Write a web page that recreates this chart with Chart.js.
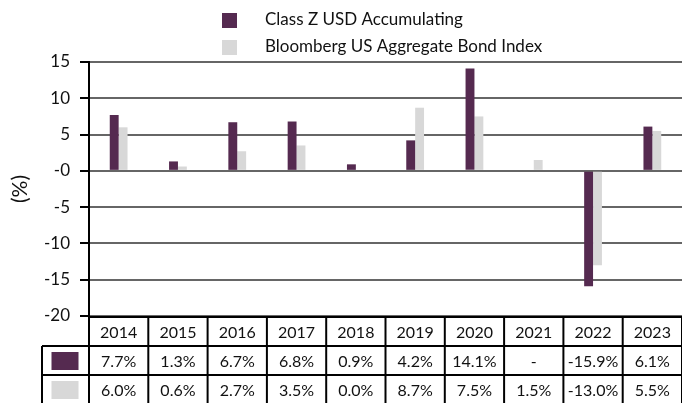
<!DOCTYPE html>
<html>
<head>
<meta charset="utf-8">
<script src="https://cdn.jsdelivr.net/npm/chart.js@4/dist/chart.umd.min.js"></script>
<style>
	html, body { margin: 0; padding: 0; background: #fff; }
	#wrap { width: 682px; height: 403px; position: relative; }
</style>
</head>
<body>
<div id="wrap"><canvas id="chart" width="682" height="403"></canvas></div>
<script>
const years = ['2014', '2015', '2016', '2017', '2018', '2019', '2020', '2021', '2022', '2023'];
const classZ = [7.7, 1.3, 6.7, 6.8, 0.9, 4.2, 14.1, null, -15.9, 6.1];
const bloomberg = [6.0, 0.6, 2.7, 3.5, 0.0, 8.7, 7.5, 1.5, -13.0, 5.5];
const seriesNames = ['Class Z USD Accumulating', 'Bloomberg US Aggregate Bond Index'];
const seriesColors = ['#552a50', '#d8d8d8'];

const FONT = 'Lato, "Open Sans", sans-serif';

// Leyenda vertical arriba
const legendPlugin = {
	id: 'stackedLegend',
	afterDraw(chart) {
		const ctx = chart.ctx;
		ctx.save();
		ctx.font = '17px ' + FONT;
		ctx.textBaseline = 'middle';
		ctx.textAlign = 'left';
		chart.data.datasets.forEach((ds, i) => {
			const cy = 20 + i * 27;
			ctx.fillStyle = ds.backgroundColor;
			ctx.fillRect(222, cy - 7, 15, 15);
			ctx.fillStyle = '#111';
			ctx.fillText(ds.label, 265, cy);
		});
		ctx.restore();
	}
};

// Tabla de datos bajo el gráfico
const tablePlugin = {
	id: 'dataTable',
	afterDraw(chart) {
		const ctx = chart.ctx;
		const area = chart.chartArea;
		const x = chart.scales.x;
		const colW = (area.right - area.left) / years.length;
		const rowH = 29;
		const top = area.bottom + 1;
		const firstLeft = 42;

		ctx.save();
		ctx.strokeStyle = '#000';
		ctx.lineWidth = 2;

		// bordes horizontales
		const hLine = (y, x0) => {
			ctx.beginPath();
			ctx.moveTo(x0, y);
			ctx.lineTo(area.right + 2, y);
			ctx.stroke();
		};
		hLine(top, area.left);
		hLine(top + rowH, firstLeft);
		hLine(top + rowH * 2, firstLeft);
		hLine(top + rowH * 3, firstLeft);

		// bordes verticales
		const vLine = (xx, y0, y1) => {
			ctx.beginPath();
			ctx.moveTo(xx, y0);
			ctx.lineTo(xx, y1);
			ctx.stroke();
		};
		vLine(firstLeft, top + rowH, top + rowH * 3);
		for (let i = 0; i <= years.length; i++) {
			vLine(area.left + i * colW, top, top + rowH * 3);
		}

		ctx.font = '16px ' + FONT;
		ctx.fillStyle = '#111';
		ctx.textAlign = 'center';
		ctx.textBaseline = 'middle';

		years.forEach((yr, i) => {
			const cx = x.getPixelForValue(i);
			ctx.fillText(yr, cx, top + rowH / 2 + 1);
			chart.data.datasets.forEach((ds, d) => {
				const v = ds.data[i];
				const txt = v === null ? '-' : v.toFixed(1) + '%';
				ctx.fillText(txt, cx, top + rowH * (d + 1) + rowH / 2 + 1);
			});
		});

		// muestras de color
		const sx = (firstLeft + area.left) / 2;
		chart.data.datasets.forEach((ds, d) => {
			ctx.fillStyle = ds.backgroundColor;
			ctx.fillRect(sx - 14, top + rowH * (d + 1) + 6, 27, 18);
		});
		ctx.restore();
	}
};

const canvas = document.getElementById('chart');

const graph = new Chart(canvas, {
	type: 'bar',
	data: {
		labels: years,
		datasets: [
			{ label: seriesNames[0], data: classZ, backgroundColor: seriesColors[0] },
			{ label: seriesNames[1], data: bloomberg, backgroundColor: seriesColors[1] }
		]
	},
	options: {
		responsive: false,
		animation: false,
		devicePixelRatio: 1,
		categoryPercentage: 0.3,
		barPercentage: 1,
		layout: { padding: { top: 62, bottom: 87, left: 0, right: 0 } },
		plugins: {
			legend: { display: false },
			tooltip: { enabled: false }
		},
		scales: {
			x: { display: false },
			y: {
				min: -20,
				max: 15,
				afterFit: (scale) => { scale.width = 89; },
				border: { color: '#000', width: 2 },
				grid: {
					color: '#666',
					lineWidth: 2,
					tickColor: '#000',
					tickLength: 9
				},
				ticks: {
					stepSize: 5,
					padding: 10,
					color: '#111',
					font: { family: FONT, size: 17 },
					callback: (v) => (v === 0 ? '-0' : v)
				},
				title: {
					display: true,
					text: '(%)',
					color: '#111',
					font: { family: FONT, size: 21 },
					padding: { top: 8, bottom: 0 }
				}
			}
		}
	},
	plugins: [legendPlugin, tablePlugin]
});
</script>
</body>
</html>
